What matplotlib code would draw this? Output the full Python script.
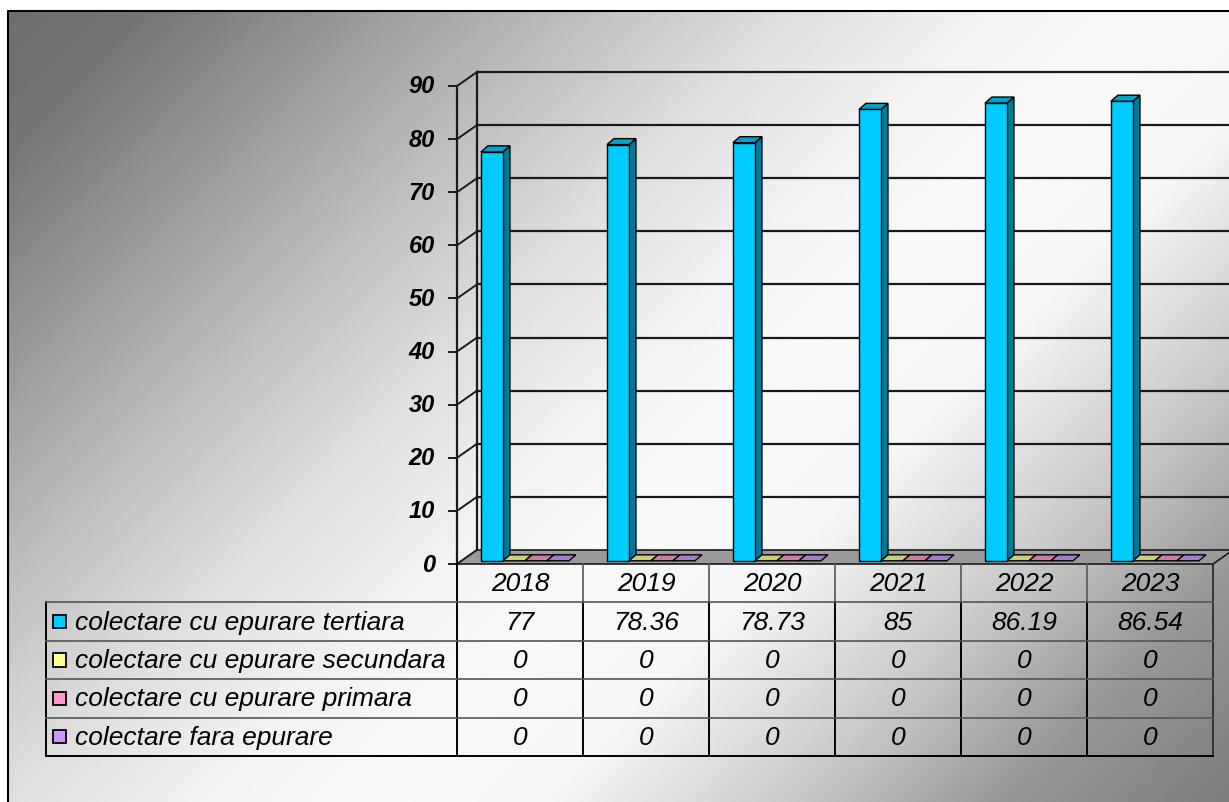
import matplotlib.pyplot as plt
from matplotlib.patches import Polygon, Rectangle
import numpy as np

plt.rcParams['font.family'] = ['Liberation Sans', 'DejaVu Sans']

years = ['2018', '2019', '2020', '2021', '2022', '2023']
series = ['colectare cu epurare tertiara',
          'colectare cu epurare secundara',
          'colectare cu epurare primara',
          'colectare fara epurare']
tertiara = [77, 78.36, 78.73, 85, 86.19, 86.54]
secundara = [0, 0, 0, 0, 0, 0]
primara = [0, 0, 0, 0, 0, 0]
fara = [0, 0, 0, 0, 0, 0]
values = [tertiara, secundara, primara, fara]
colors = ['#00ccff', '#ffff99', '#ff99cc', '#cc99ff']
yticks = list(range(0, 100, 10))

W, H = 1229, 803
fig = plt.figure(figsize=(W / 100, H / 100), dpi=100)

# background gradient of the chart area (diagonal, dark -> white -> gray)
bg = fig.add_axes([0, 0, 1, 1])
bg.set_xlim(0, W)
bg.set_ylim(H, 0)
bg.axis('off')
xs = np.linspace(8, W, 600)[None, :]
ys = np.linspace(12, H, 400)[:, None]
d = xs + ys
grad = np.interp(d, [0, 150, 400, 600, 800, 1000, 1150, 1350, 1600, 1800, 2032],
                 [110, 116, 158, 192, 222, 242, 249, 246, 200, 152, 125])
bg.imshow(grad, extent=(8, W, H, 12), cmap='gray', vmin=0, vmax=255,
          aspect='auto', interpolation='bilinear')
bg.plot([8, 8, W], [H, 12, 12], color='black', lw=1.5)

# plot area (front plane)
ax = fig.add_axes([457 / W, 1 - 565 / H, 756 / W, 478 / H])
ax.set_xlim(0, 6)
ax.set_ylim(0, 90)
ax.axis('off')
ax.patch.set_visible(False)

DX, DY = 20 / 126, 14 * 90 / 478      # wall depth
BDX, BDY = 7 / 126, 6 * 90 / 478      # bar depth
BASE = 0.6
OFF = 0.19
BW = 22 / 126
lc = '#1a1a1a'

# back wall grid
for yv in yticks[1:]:
    ax.plot([DX, 6.3], [yv + DY, yv + DY], color=lc, lw=1.6, clip_on=False, zorder=1)
ax.plot([DX, DX], [DY, 90 + DY], color=lc, lw=1.6, clip_on=False, zorder=1)
# side wall
for yv in yticks:
    ax.plot([0, DX], [yv, yv + DY], color=lc, lw=1.4, clip_on=False, zorder=1)
    ax.plot([-8 / 126, 0], [yv, yv], color=lc, lw=1.4, clip_on=False, zorder=1)
    ax.text(-22 / 126, yv, str(yv), ha='right', va='center', fontsize=17,
            fontweight='bold', fontstyle='italic', clip_on=False)
ax.plot([0, 0], [0, 90], color=lc, lw=1.6, clip_on=False, zorder=1)

# floor
ax.add_patch(Polygon([(0, 0), (6, 0), (6 + DX, DY), (DX, DY)], closed=True,
                     facecolor='#9a9a9a', edgecolor=lc, lw=1.2, clip_on=False, zorder=2))


def shade(c, f):
    r, g, b = [int(c[k:k + 2], 16) for k in (1, 3, 5)]
    return '#%02x%02x%02x' % (int(r * f), int(g * f), int(b * f))


for i in range(len(years)):
    for j, vals in enumerate(values):
        x0 = i + OFF + j * BW
        x1 = x0 + BW
        h = vals[i]
        c = colors[j]
        kw = dict(closed=True, edgecolor='black', lw=1, clip_on=False, zorder=3)
        if h > 0:
            ax.add_patch(Polygon([(x1, BASE), (x1 + BDX, BASE + BDY),
                                  (x1 + BDX, BASE + h + BDY), (x1, BASE + h)],
                                 facecolor=shade(c, 0.6), **kw))
            ax.add_patch(Rectangle((x0, BASE), BW, h, facecolor=c, edgecolor='black',
                                   lw=1, clip_on=False, zorder=3))
        ax.add_patch(Polygon([(x0, BASE + h), (x1, BASE + h),
                              (x1 + BDX, BASE + h + BDY), (x0 + BDX, BASE + h + BDY)],
                             facecolor=shade(c, 0.8), **kw))

# data table
LEG = 411 / 126
tb = fig.add_axes([46 / W, 1 - 757 / H, (1213 - 46) / W, 192 / H])
tb.set_xlim(-LEG, 6)
tb.set_ylim(5, 0)
tb.axis('off')
tb.patch.set_visible(False)
gray = '#555555'
for k in range(1, 6):
    tb.plot([k, k], [0, 1], color=gray, lw=1.2, clip_on=False)
tb.plot([0, 0], [0, 5], color='black', lw=1.4, clip_on=False)
tb.plot([-LEG, -LEG], [1, 5], color='black', lw=1.4, clip_on=False)
for k in range(1, 6):
    tb.plot([k, k], [1, 5], color='black', lw=1.4, clip_on=False)
tb.plot([6, 6], [0, 5], color='#333333', lw=1.4, clip_on=False)
for r in range(1, 5):
    tb.plot([-LEG, 6], [r, r], color=gray, lw=1.2, clip_on=False)
tb.plot([-LEG, 6], [5, 5], color='black', lw=1.4, clip_on=False)

for i, yr in enumerate(years):
    tb.text(i + 0.5, 0.5, yr, ha='center', va='center', fontsize=19, fontstyle='italic')
for j, name in enumerate(series):
    tb.add_patch(Rectangle((-LEG + 7 / 126, j + 1.5 - 0.17), 13 / 126, 0.34,
                           facecolor=colors[j], edgecolor='black', lw=1.3, clip_on=False))
    tb.text(-LEG + 29 / 126, j + 1.5, name, ha='left', va='center',
            fontsize=19, fontstyle='italic')
    for i in range(len(years)):
        tb.text(i + 0.5, j + 1.5, f'{values[j][i]:g}', ha='center', va='center',
                fontsize=19, fontstyle='italic')

fig.savefig('out.png', dpi=100)
